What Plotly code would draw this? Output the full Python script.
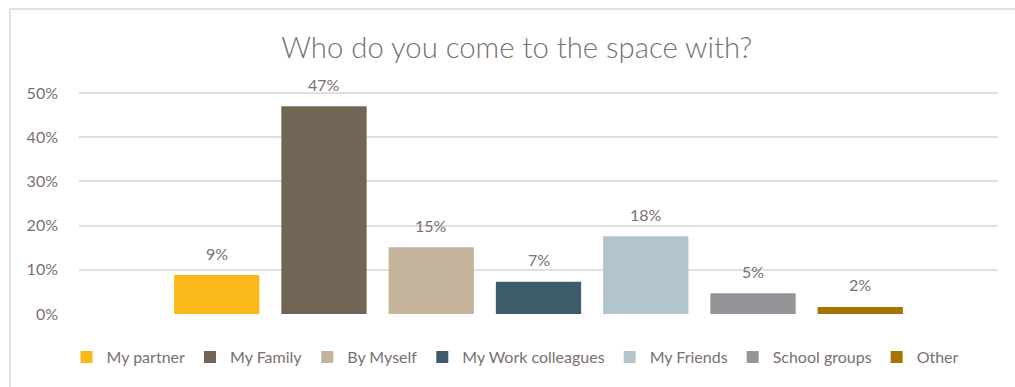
import plotly.graph_objects as go

# Survey responses: share of visitors by who they come with
groups = ["My partner", "My Family", "By Myself", "My Work colleagues",
          "My Friends", "School groups", "Other"]
shares = [0.088, 0.470, 0.151, 0.073, 0.176, 0.047, 0.016]
colors = ["#FBB81A", "#726556", "#C4B49B", "#3E5C6B",
          "#B2C5CC", "#939598", "#A57500"]

y_ticks = [0, 0.1, 0.2, 0.3, 0.4, 0.5]

text_color = "#7A6F72"
font_family = "Lato, 'Open Sans', sans-serif"

fig = go.Figure()
for i, (name, val, col) in enumerate(zip(groups, shares, colors)):
    fig.add_trace(go.Bar(
        x=[i], y=[val], name=name, width=0.795,
        marker=dict(color=col, line=dict(width=0)),
    ))
    # value label floating above each bar
    fig.add_annotation(
        x=i, y=val, text=f"{val:.0%}", showarrow=False,
        yanchor="middle", yshift=22,
        font=dict(size=16, color=text_color, family=font_family),
    )

fig.update_layout(
    width=1015, height=387,
    margin=dict(l=79, r=17, t=71, b=73, autoexpand=False),
    paper_bgcolor="white", plot_bgcolor="white",
    barmode="overlay",
    title=dict(text="Who do you come to the space with?", x=0.509, xref="container",
               xanchor="center", y=1 - 48 / 387, yanchor="middle",
               font=dict(size=29.3, color=text_color, family=font_family, weight=300)),
    font=dict(family=font_family, color=text_color),
    showlegend=True,
    legend=dict(orientation="h", x=0.475, xanchor="center", y=-0.177, yanchor="middle",
                font=dict(size=16, color=text_color), itemwidth=30,
                traceorder="normal", tracegroupgap=0),
    xaxis=dict(range=[-1.284, 7.284], showticklabels=False, showgrid=False,
               zeroline=False, showline=False),
    yaxis=dict(range=[0, 0.55], tickvals=y_ticks, tickformat=".0%",
               showgrid=True, gridcolor="#E0E0E0", gridwidth=1.5,
               zeroline=False, showline=False, ticks="",
               tickfont=dict(size=16, color=text_color), ticklabelstandoff=20),
    shapes=[
        # chart frame: top and left edges
        dict(type="line", xref="paper", yref="paper",
             x0=(10 - 79) / 919, x1=(1015 - 79) / 919,
             y0=(387 - 73 - 9) / 243, y1=(387 - 73 - 9) / 243,
             line=dict(color="#D9D9D9", width=1.5)),
        dict(type="line", xref="paper", yref="paper",
             x0=(10 - 79) / 919, x1=(10 - 79) / 919,
             y0=-73 / 243, y1=(387 - 73 - 9) / 243,
             line=dict(color="#D9D9D9", width=1.5)),
    ],
)

fig.write_html("out.html")
